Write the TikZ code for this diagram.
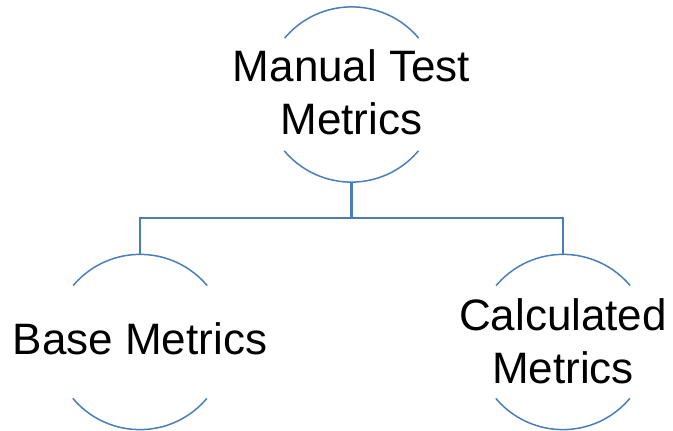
\documentclass[tikz,border=0pt]{standalone}
\usepackage{fontspec}
\setmainfont{Liberation Sans}
\begin{document}
\begin{tikzpicture}[x=1pt,y=-1pt,
  ring/.style={circle,draw=none,minimum size=175pt,inner sep=0pt},
  arcline/.style={draw=metricblue,line width=1.5pt},
  conn/.style={draw=metricblue,line width=2.2pt},
  label text/.style={align=center,inner sep=0pt,text=black,
    font=\fontsize{44}{53}\selectfont}]
\definecolor{metricblue}{RGB}{74,126,187}
\useasboundingbox (0,0) rectangle (673,431);

% circle holders
\node[ring] (top)  at (351.5,94.5) {};
\node[ring] (base) at (140,342) {};
\node[ring] (calc) at (563,342) {};

% open circles: upper and lower arcs only
\foreach \n in {top,base,calc}{
  \draw[arcline] (\n.40) arc[start angle=40,end angle=140,radius=87.5pt];
  \draw[arcline] (\n.220) arc[start angle=220,end angle=320,radius=87.5pt];
}

% labels
\node[label text] (topLabel)  at ([yshift=1.8pt]top)  {Manual Test\\Metrics};
\node[label text] (baseLabel) at ([yshift=3pt]base)   {Base Metrics};
\node[label text] (calcLabel) at ([yshift=0.4pt]calc) {Calculated\\Metrics};

% tree connectors
\coordinate (bus) at (351.5,218);
\draw[conn] (top.south) -- (bus);
\draw[conn] (bus) -| (base.north);
\draw[conn] (bus) -| (calc.north);
\end{tikzpicture}
\end{document}
